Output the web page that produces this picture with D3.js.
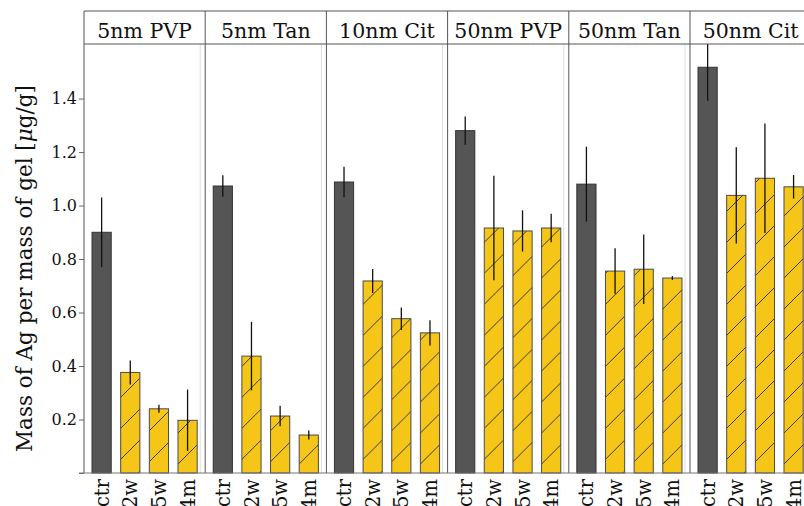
<!DOCTYPE html>
<html>
<head>
<meta charset="utf-8">
<script src="https://cdn.jsdelivr.net/npm/d3@7"></script>
<style>
  body { margin: 0; background: #fff; }
  svg { display: block; }
</style>
</head>
<body>
<div id="chart"></div>
<script>
// particle type / coating of each panel
const panels = ["5nm PVP", "5nm Tan", "10nm Cit", "50nm PVP", "50nm Tan", "50nm Cit"];
// time points inside every panel
const times = ["ctr", "2w", "5w", "4m"];
// mean mass of Ag per mass of gel, one row per panel
const means = [
  [0.900, 0.376, 0.240, 0.197],
  [1.073, 0.437, 0.213, 0.142],
  [1.088, 0.718, 0.577, 0.524],
  [1.280, 0.916, 0.905, 0.916],
  [1.080, 0.755, 0.762, 0.729],
  [1.517, 1.038, 1.102, 1.070]
];
// half length of the error bars
const errors = [
  [0.130, 0.045, 0.015, 0.115],
  [0.040, 0.128, 0.038, 0.017],
  [0.057, 0.045, 0.042, 0.047],
  [0.053, 0.195, 0.077, 0.053],
  [0.140, 0.085, 0.130, 0.007],
  [0.125, 0.180, 0.205, 0.044]
];
const yTicks = [0, 0.2, 0.4, 0.6, 0.8, 1.0, 1.2, 1.4];
const yMax = 1.604;

const width = 804, height = 506;
const marginLeft = 84, headerTop = 11, plotTop = 44, plotBottom = 473;
const panelW = 121.2;
const serif = "'DejaVu Serif', serif";

const svg = d3.select("#chart").append("svg")
    .attr("width", width)
    .attr("height", height)
    .attr("viewBox", [0, 0, width, height]);

// hatch for the yellow bars
svg.append("defs").append("pattern")
    .attr("id", "hatch")
    .attr("patternUnits", "userSpaceOnUse")
    .attr("width", 31).attr("height", 31)
    .call(p => p.append("rect").attr("width", 31).attr("height", 31).attr("fill", "#f5c518"))
    .call(p => p.append("path")
        .attr("d", "M-2,2 L2,-2 M0,31 L31,0 M29,33 L33,29")
        .attr("stroke", "#3a3a3a")
        .attr("stroke-width", 1));

svg.select("defs").append("clipPath")
    .attr("id", "plotclip")
    .append("rect")
    .attr("x", marginLeft).attr("y", plotTop)
    .attr("width", width).attr("height", plotBottom - plotTop);

const y = d3.scaleLinear().domain([0, yMax]).range([plotBottom, plotTop]);
const px = d3.scaleBand().domain(panels).range([marginLeft, marginLeft + panelW * panels.length]);
const x = d3.scaleBand().domain(times).range([0, panelW]).paddingInner(0.33).paddingOuter(0.28);

// y axis
svg.append("g")
    .attr("transform", `translate(${marginLeft},0)`)
    .call(d3.axisLeft(y).tickValues(yTicks).tickSize(5).tickSizeOuter(0)
        .tickFormat(d => d === 0 ? "" : d3.format(".1f")(d)))
    .call(g => g.select(".domain").remove())
    .call(g => g.selectAll(".tick line").attr("stroke", "#666"))
    .call(g => g.selectAll(".tick text")
        .attr("x", -7)
        .attr("font-family", serif)
        .attr("font-size", 16)
        .attr("fill", "#111"));

svg.append("text")
    .attr("transform", `translate(32,${(85 + 452) / 2}) rotate(-90)`)
    .attr("text-anchor", "middle")
    .attr("font-family", serif)
    .attr("font-size", 21.5)
    .attr("fill", "#111")
    .call(t => t.append("tspan").text("Mass of Ag per mass of gel ["))
    .call(t => t.append("tspan").attr("font-style", "italic").text("\u03bc"))
    .call(t => t.append("tspan").text("g/g]"));

const panel = svg.selectAll(".panel")
    .data(panels)
    .join("g")
    .attr("class", "panel")
    .attr("transform", d => `translate(${px(d)},0)`);

// bars
panel.selectAll("rect.bar")
    .data((d, i) => times.map((t, j) => ({t, v: means[i][j], e: errors[i][j]})))
    .join("rect")
    .attr("class", "bar")
    .attr("x", d => x(d.t))
    .attr("y", d => y(d.v))
    .attr("width", x.bandwidth())
    .attr("height", d => y(0) - y(d.v))
    .attr("fill", d => d.t === "ctr" ? "#545554" : "url(#hatch)")
    .attr("stroke", d => d.t === "ctr" ? "#333" : "#4a4a4a")
    .attr("stroke-width", 1);

// error bars
const errG = svg.append("g").attr("clip-path", "url(#plotclip)");
panels.forEach((p, i) => {
  errG.selectAll(null)
      .data(times.map((t, j) => ({t, v: means[i][j], e: errors[i][j]})))
      .join("line")
      .attr("x1", d => px(p) + x(d.t) + x.bandwidth() / 2)
      .attr("x2", d => px(p) + x(d.t) + x.bandwidth() / 2)
      .attr("y1", d => y(d.v - d.e))
      .attr("y2", d => y(d.v + d.e))
      .attr("stroke", "#111")
      .attr("stroke-width", 1.3);
});

// x tick labels
panel.selectAll("text.tl")
    .data(times)
    .join("text")
    .attr("class", "tl")
    .attr("transform", d => `translate(${x(d) + x.bandwidth() / 2},479) rotate(-90)`)
    .attr("text-anchor", "end")
    .attr("dy", "0.36em")
    .attr("font-family", serif)
    .attr("font-size", 19.5)
    .attr("fill", "#111")
    .text(d => d);

// strip headers
panel.append("text")
    .attr("x", panelW / 2)
    .attr("y", 37.5)
    .attr("text-anchor", "middle")
    .attr("font-family", serif)
    .attr("font-size", 20.5)
    .attr("fill", "#111")
    .text(d => d);

// frames
panel.append("line")
    .attr("x1", 0).attr("x2", 0)
    .attr("y1", headerTop).attr("y2", plotBottom)
    .attr("stroke", "#555");
panel.append("line")
    .attr("x1", panelW - 5).attr("x2", panelW - 5)
    .attr("y1", plotTop).attr("y2", plotBottom)
    .attr("stroke", "#ddd");

const frameRight = marginLeft + panelW * panels.length;
svg.append("line")
    .attr("x1", marginLeft).attr("x2", frameRight)
    .attr("y1", headerTop).attr("y2", headerTop)
    .attr("stroke", "#555");
svg.append("line")
    .attr("x1", marginLeft).attr("x2", frameRight)
    .attr("y1", plotTop).attr("y2", plotTop)
    .attr("stroke", "#555");
svg.append("line")
    .attr("x1", marginLeft - 5).attr("x2", frameRight)
    .attr("y1", plotBottom).attr("y2", plotBottom)
    .attr("stroke", "#777");
</script>
</body>
</html>
